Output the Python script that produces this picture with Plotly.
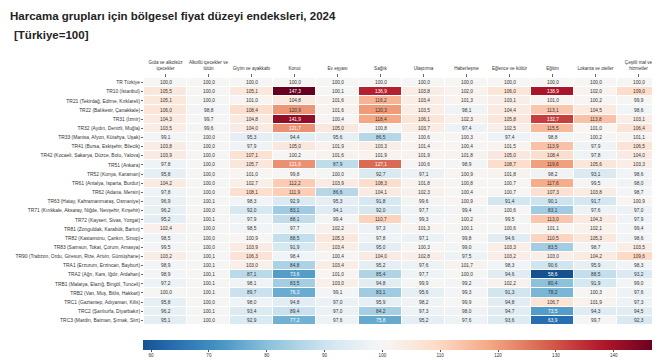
import plotly.graph_objects as go

regions = [
    "TR Türkiye", "TR10 (İstanbul)", "TR21 (Tekirdağ, Edirne, Kırklareli)",
    "TR22 (Balıkesir, Çanakkale)", "TR31 (İzmir)", "TR32 (Aydın, Denizli, Muğla)",
    "TR33 (Manisa, Afyon, Kütahya, Uşak)", "TR41 (Bursa, Eskişehir, Bilecik)",
    "TR42 (Kocaeli, Sakarya, Düzce, Bolu, Yalova)", "TR51 (Ankara)", "TR52 (Konya, Karaman)",
    "TR61 (Antalya, Isparta, Burdur)", "TR62 (Adana, Mersin)",
    "TR63 (Hatay, Kahramanmaraş, Osmaniye)",
    "TR71 (Kırıkkale, Aksaray, Niğde, Nevşehir, Kırşehir)", "TR72 (Kayseri, Sivas, Yozgat)",
    "TR81 (Zonguldak, Karabük, Bartın)", "TR82 (Kastamonu, Çankırı, Sinop)",
    "TR83 (Samsun, Tokat, Çorum, Amasya)",
    "TR90 (Trabzon, Ordu, Giresun, Rize, Artvin, Gümüşhane)",
    "TRA1 (Erzurum, Erzincan, Bayburt)", "TRA2 (Ağrı, Kars, Iğdır, Ardahan)",
    "TRB1 (Malatya, Elazığ, Bingöl, Tunceli)", "TRB2 (Van, Muş, Bitlis, Hakkari)",
    "TRC1 (Gaziantep, Adıyaman, Kilis)", "TRC2 (Şanlıurfa, Diyarbakır)",
    "TRC3 (Mardin, Batman, Şırnak, Siirt)",
]

groups = [
    "Gıda ve alkolsüz<br>içecekler", "Alkollü içecekler ve<br>tütün", "Giyim ve ayakkabı",
    "Konut", "Ev eşyası", "Sağlık", "Ulaştırma", "Haberleşme", "Eğlence ve kültür",
    "Eğitim", "Lokanta ve oteller", "Çeşitli mal ve<br>hizmetler",
]

gida = [100.0, 105.5, 105.1, 106.0, 104.3, 103.5, 99.1, 103.8, 103.9, 97.8, 95.8, 104.2, 97.8, 96.9,
        96.2, 95.2, 102.4, 98.5, 99.5, 103.2, 98.9, 98.9, 97.2, 100.0, 95.8, 96.2, 95.1]
alkol = [100.0, 100.0, 100.0, 98.8, 99.7, 99.6, 100.0, 100.0, 100.0, 100.0, 100.0, 100.0, 100.0, 100.1,
         100.0, 100.1, 100.0, 100.0, 100.0, 100.1, 100.1, 100.1, 100.1, 100.1, 100.0, 100.1, 100.0]
giyim = [100.0, 105.1, 101.0, 108.4, 104.8, 104.0, 95.3, 97.9, 107.1, 105.7, 101.0, 102.7, 108.1, 98.3,
         92.0, 97.9, 98.5, 100.9, 103.9, 106.3, 103.0, 87.1, 98.1, 89.7, 98.0, 93.4, 92.9]
konut = [100.0, 147.3, 104.8, 120.9, 141.9, 121.7, 94.4, 105.0, 100.2, 121.6, 99.8, 112.2, 111.9, 92.9,
         83.1, 88.1, 97.7, 88.5, 91.9, 98.4, 84.8, 73.6, 83.5, 76.3, 94.8, 89.4, 77.2]
ev_esyasi = [100.0, 100.1, 101.6, 101.6, 100.4, 105.0, 95.6, 101.9, 101.6, 87.9, 100.0, 103.9, 86.6, 95.3,
             94.1, 99.4, 102.2, 105.3, 103.4, 100.4, 103.4, 101.0, 103.0, 99.1, 97.0, 97.0, 97.6]
saglik = [100.0, 136.9, 116.2, 120.3, 118.4, 100.8, 86.5, 103.3, 101.9, 127.1, 92.7, 108.3, 104.1, 91.8,
          92.0, 110.7, 97.3, 97.8, 95.0, 104.0, 95.2, 85.4, 94.8, 83.1, 95.9, 84.2, 75.8]
ulastirma = [100.0, 103.8, 103.4, 103.5, 106.1, 103.7, 100.6, 101.4, 101.9, 100.6, 97.1, 101.8, 102.3, 99.6,
             97.7, 99.3, 101.3, 97.1, 100.3, 102.8, 97.6, 97.7, 99.9, 95.6, 98.2, 97.3, 95.2]
haberlesme = [100.0, 102.0, 101.3, 98.1, 102.3, 97.4, 100.3, 100.4, 101.8, 98.9, 100.9, 100.8, 100.4, 100.9,
              99.4, 100.2, 100.1, 99.8, 99.0, 97.5, 101.7, 100.0, 99.2, 99.3, 99.9, 98.0, 97.6]
eglence = [100.0, 106.0, 103.1, 104.4, 105.8, 102.5, 97.4, 101.5, 105.0, 108.7, 101.8, 100.7, 100.7, 91.4,
           100.6, 99.5, 100.6, 94.6, 103.3, 103.2, 98.3, 94.6, 102.2, 91.3, 94.8, 94.7, 93.6]
egitim = [100.0, 138.9, 101.0, 113.1, 132.7, 115.5, 98.8, 113.9, 108.4, 119.6, 98.2, 117.6, 107.3, 90.1,
          83.1, 113.0, 101.1, 110.5, 83.5, 103.0, 90.6, 58.6, 80.4, 78.2, 106.7, 73.5, 63.9]
lokanta = [100.0, 102.0, 100.2, 104.5, 113.8, 101.0, 100.2, 97.9, 97.8, 105.6, 93.1, 99.5, 103.8, 91.7,
           97.6, 104.3, 102.1, 105.3, 98.7, 104.2, 95.9, 88.5, 91.9, 100.3, 101.9, 94.3, 99.7]
cesitli = [100.0, 109.0, 99.9, 98.6, 103.1, 106.4, 101.1, 106.5, 104.0, 103.3, 98.6, 98.0, 98.7, 100.9,
           97.0, 97.9, 99.4, 98.6, 103.5, 109.6, 98.3, 93.2, 99.0, 97.6, 97.3, 94.5, 92.3]

colorbar_ticks = [60, 70, 80, 90, 100, 110, 120, 130, 140]

columns = [gida, alkol, giyim, konut, ev_esyasi, saglik, ulastirma, haberlesme, eglence, egitim, lokanta, cesitli]
z = [[col[i] for col in columns] for i in range(len(regions))]

# RdBu_r centred at 100 (seaborn style)
rdbu_r = ["#053061", "#2166ac", "#4393c3", "#92c5de", "#d1e5f0", "#f7f7f7",
          "#fddbc7", "#f4a582", "#d6604d", "#b2182b", "#67001f"]


def hex2rgb(h):
    return tuple(int(h[i:i + 2], 16) for i in (1, 3, 5))


def cmap(t):
    t = min(max(t, 0.0), 1.0)
    pos = t * 10
    i = min(int(pos), 9)
    f = pos - i
    a, b = hex2rgb(rdbu_r[i]), hex2rgb(rdbu_r[i + 1])
    return tuple(a[k] + (b[k] - a[k]) * f for k in range(3))


allv = [v for row in z for v in row]
vmin, vmax = min(allv), max(allv)
d = max(vmax - 100, 100 - vmin)
lo, hi = 100 - d, 100 + d

N = 41
colorscale = []
for j in range(N):
    s = j / (N - 1)
    v = vmin + s * (vmax - vmin)
    r, g, b = cmap((v - lo) / (hi - lo))
    colorscale.append([s, f"rgb({r:.0f},{g:.0f},{b:.0f})"])


def lum(rgb):
    out = []
    for c in rgb:
        c = c / 255
        out.append(c / 12.92 if c <= 0.03928 else ((c + 0.055) / 1.055) ** 2.4)
    return 0.2126 * out[0] + 0.7152 * out[1] + 0.0722 * out[2]


fig = go.Figure()
fig.add_trace(go.Heatmap(
    z=z, x=groups, y=regions, zmin=vmin, zmax=vmax, colorscale=colorscale,
    xgap=1, ygap=1, hoverinfo="skip",
    colorbar=dict(
        orientation="h", x=-0.002, xanchor="left", y=-0.061, yanchor="top",
        len=0.995, lenmode="fraction", thickness=10, outlinewidth=0, xpad=0, ypad=0,
        tickvals=colorbar_ticks, ticks="outside", ticklen=2, tickcolor="#555",
        tickfont=dict(size=4.6, color="#333"),
    ),
))

for i, reg in enumerate(regions):
    for j, grp in enumerate(groups):
        v = z[i][j]
        rgb = cmap((v - lo) / (hi - lo))
        col = "#ffffff" if lum(rgb) < 0.408 else "#333333"
        fig.add_annotation(x=grp, y=reg, text=f"{v:.1f}".replace(".", ","), showarrow=False,
                           font=dict(size=4.8, color=col, family="Liberation Sans, Arial"))

fig.add_annotation(xref="paper", yref="paper", x=-0.2636, y=1.251, xanchor="left", yanchor="middle",
                   text="<b>Harcama grupları için bölgesel fiyat düzeyi endeksleri, 2024</b>",
                   showarrow=False, font=dict(size=11.5, color="#222", family="Liberation Sans, Arial"))
fig.add_annotation(xref="paper", yref="paper", x=-0.2558, y=1.174, xanchor="left", yanchor="middle",
                   text="<b>[Türkiye=100]</b>",
                   showarrow=False, font=dict(size=11.5, color="#222", family="Liberation Sans, Arial"))

fig.update_xaxes(side="top", ticks="outside", ticklen=3, tickcolor="#666", showgrid=False,
                 tickfont=dict(size=4.6, color="#333"), tickangle=0, zeroline=False,
                 automargin=False, ticklabelstandoff=2)
fig.update_yaxes(autorange="reversed", ticks="outside", ticklen=2, tickcolor="#666", showgrid=False,
                 tickfont=dict(size=4.9, color="#333"), zeroline=False, automargin=False)

# The page body adds an 8 px margin, so the figure is sized to fit the window.
fig.update_layout(
    width=652, height=352,
    margin=dict(l=136, r=0, t=70, b=35),
    paper_bgcolor="white", plot_bgcolor="white",
    font=dict(family="Liberation Sans, Arial", color="#333"),
)

fig.write_html("out.html")
